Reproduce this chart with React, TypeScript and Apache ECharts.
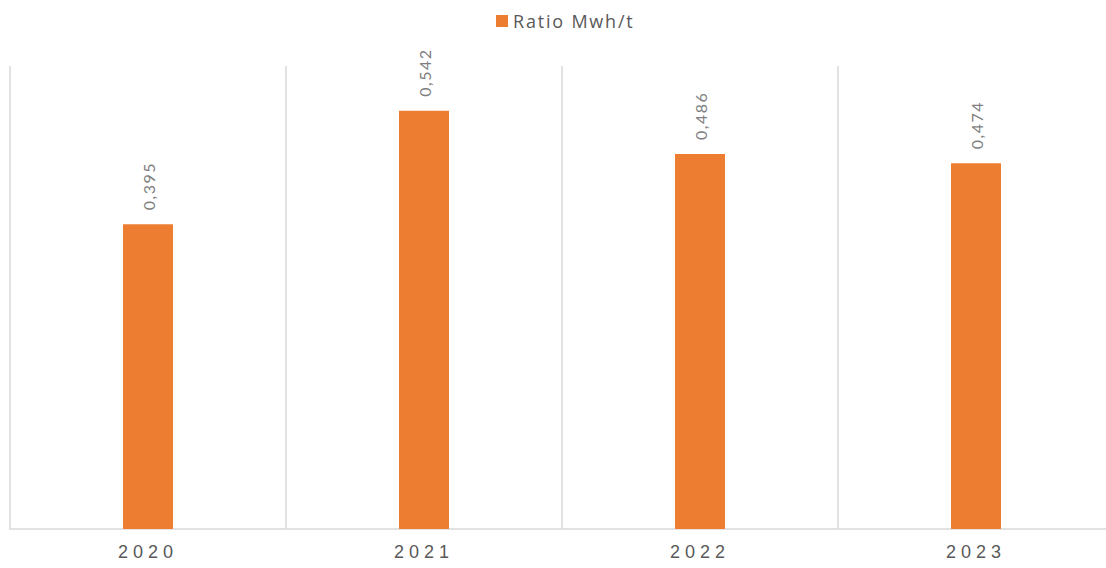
import React, { useEffect, useRef } from "react";
import * as echarts from "echarts";

const categories = ["2020", "2021", "2022", "2023"];
const ratioValues = [0.395, 0.542, 0.486, 0.474];
const seriesName = "Ratio Mwh/t";

const css = `
#chart-host text[style*="Liberation Sans"] { letter-spacing: 5px; }
#chart-host text[style*="Open Sans"] { letter-spacing: 1.8px; }
#chart-host text[style*="Lato"] { letter-spacing: 1.5px; }
`;

export default function App() {
  const ref = useRef<HTMLDivElement>(null);
  useEffect(() => {
    if (!ref.current) return;
    const chart = echarts.init(ref.current, undefined, { renderer: "svg" });
    chart.setOption({
      animation: false,
      backgroundColor: "#ffffff",
      legend: {
        top: 7,
        left: 491,
        itemWidth: 12,
        itemHeight: 12,
        icon: "rect",
        itemGap: 10,
        textStyle: { color: "#595959", fontSize: 18, fontFamily: "Open Sans" },
        data: [seriesName],
      },
      grid: { left: 10, top: 66, right: 0, bottom: 39, containLabel: false },
      xAxis: {
        type: "category",
        data: categories,
        boundaryGap: true,
        axisLine: { show: true, lineStyle: { color: "#d9d9d9", width: 1.5 } },
        axisTick: { show: false },
        splitLine: { show: true, lineStyle: { color: "#d9d9d9", width: 1.5 } },
        axisLabel: {
          color: "#595959",
          fontSize: 18,
          margin: 14,
          fontFamily: "Liberation Sans",
        },
      },
      yAxis: {
        type: "value",
        min: 0,
        max: 0.6,
        interval: 0.1,
        show: false,
        splitLine: { show: false },
      },
      series: [
        {
          name: seriesName,
          type: "bar",
          data: ratioValues,
          barWidth: 50,
          itemStyle: { color: "#ED7D31" },
          label: {
            show: true,
            position: "top",
            rotate: 90,
            align: "left",
            verticalAlign: "middle",
            distance: 14,
            color: "#7f7f7f",
            fontSize: 16,
            fontFamily: "Lato",
            formatter: (p: any) => p.value.toFixed(3).replace(".", ","),
          },
        },
      ],
    });
    return () => chart.dispose();
  }, []);
  return (
    <>
      <style>{css}</style>
      <div
        style={{
          position: "fixed",
          left: 0,
          top: 0,
          width: 1106,
          height: 568,
          overflow: "hidden",
        }}
      >
        <div id="chart-host" ref={ref} style={{ width: 1114, height: 568 }} />
      </div>
    </>
  );
}
